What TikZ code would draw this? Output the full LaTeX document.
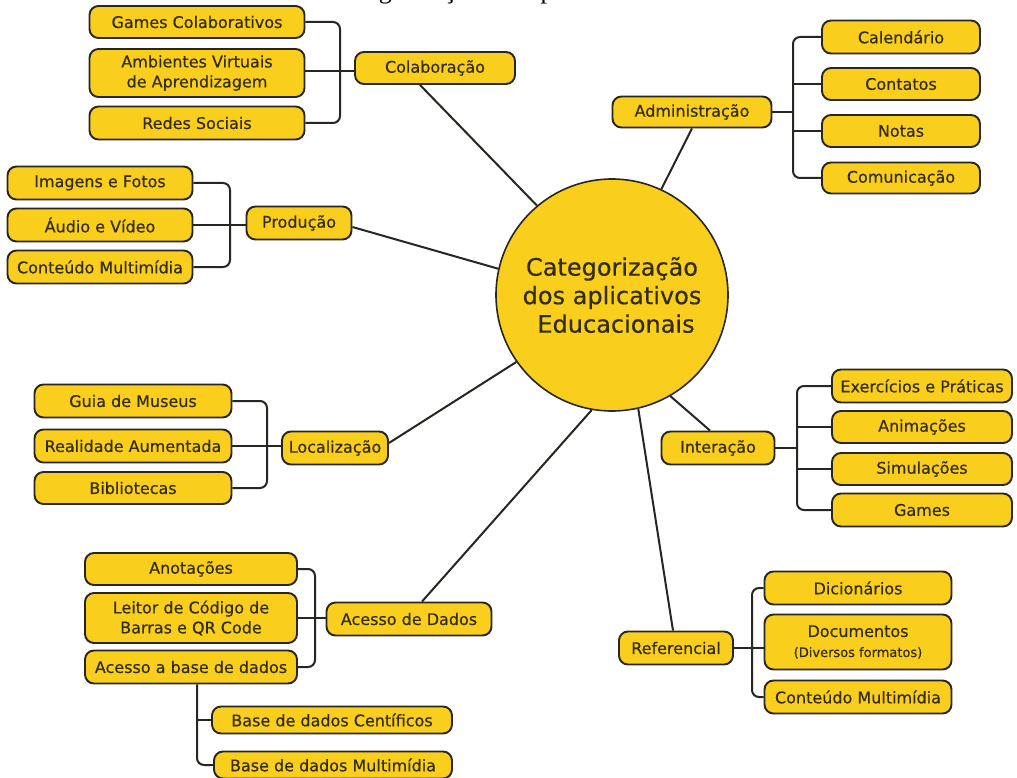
\documentclass[tikz,border=0pt]{standalone}
\usepackage{fontspec}
\setmainfont{DejaVu Sans}
\newfontface\boxface{DejaVu Sans}[FakeBold=0.4]
\newfontfamily\capfont{Liberation Serif}
\definecolor{boxfill}{RGB}{250,206,28}
\definecolor{boxline}{RGB}{40,38,32}
\definecolor{txt}{RGB}{50,44,18}
\tikzset{
  box/.style={draw=boxline, line width=1.9pt, fill=boxfill, rounded corners=9pt,
    align=center, inner sep=0pt, text=txt, font=\boxface\fontsize{16}{20}\selectfont},
  wh/.style 2 args={minimum width=#1pt, minimum height=#2pt},
  conn/.style={draw=boxline, line width=2pt, rounded corners=7pt},
  spoke/.style={draw=boxline, line width=2pt},
}
\begin{document}
\begin{tikzpicture}[x=1pt,y=-1pt]
\useasboundingbox (0,0) rectangle (1017,778);
\fill[white] (0,0) rectangle (1017,778);
% clipped caption at the top edge
\begin{scope}
\clip (0,0) rectangle (1017,778);
\node[anchor=base west, inner sep=0pt, font=\capfont\fontsize{26}{30}\selectfont] (cap) at (331,-1) {Categorização dos aplicativos};
\end{scope}

% centre
\node[circle, draw=boxline, line width=1.6pt, fill=boxfill, minimum size=232pt, inner sep=0pt,
  align=center, text=txt, font=\boxface\fontsize{24}{28.5}\selectfont] (c) at (612,295)
  {Categorização\\dos aplicativos\\\hspace*{8pt}Educacionais};

% Colaboração
\node[box, wh={215}{32}] (gc) at (197,22) {Games Colaborativos};
\node[box, wh={215}{48}] (av) at (197,73) {Ambientes Virtuais\\de Aprendizagem};
\node[box, wh={215}{33}] (rs) at (197,123) {Redes Sociais};
\node[box, wh={160}{32}] (colab) at (435,68) {Colaboração};
\coordinate (bx1) at (340,0);
\draw[conn] (gc.east) -- (gc.east -| bx1) -- (rs.east -| bx1) -- (rs.east);
\draw[spoke] ([yshift=2pt]av.east) -- ([yshift=2pt]av.east -| colab.west);

% Administração
\node[box, wh={159}{31}] (adm) at (692,112) {Administração};
\node[box, wh={158}{33}] (cal) at (901,37) {Calendário};
\node[box, wh={158}{32}] (cont) at (901,84) {Contatos};
\node[box, wh={158}{32}] (notas) at (901,131) {Notas};
\node[box, wh={158}{31}] (com) at (901,178) {Comunicação};
\coordinate (bx2) at (793,0);
\draw[conn] (cal.west) -- (cal.west -| bx2) -- (com.west -| bx2) -- (com.west);
\draw[spoke] (cont.west) -- (cont.west -| bx2);
\draw[spoke] (notas.west) -- (notas.west -| bx2);
\draw[spoke] (adm.east) -- (adm.east -| bx2);

% Produção
\node[box, wh={185}{33}] (img) at (100,183) {Imagens e Fotos};
\node[box, wh={185}{33}] (aud) at (100,225) {Áudio e Vídeo};
\node[box, wh={185}{33}] (cmm) at (100,267) {Conteúdo Multimídia};
\node[box, wh={105}{33}] (prod) at (299,223) {Produção};
\coordinate (bx3) at (230,0);
\draw[conn] (img.east) -- (img.east -| bx3) -- (cmm.east -| bx3) -- (cmm.east);
\draw[spoke] (aud.east) -- (aud.east -| prod.west);

% Localização
\node[box, wh={197}{33}] (gm) at (133,401) {Guia de Museus};
\node[box, wh={197}{33}] (ra) at (133,446) {Realidade Aumentada};
\node[box, wh={197}{32}] (bib) at (133,488) {Bibliotecas};
\node[box, wh={106}{33}] (loc) at (335,448) {Localização};
\coordinate (bx4) at (267,0);
\draw[conn] (gm.east) -- (gm.east -| bx4) -- (bib.east -| bx4) -- (bib.east);
\draw[spoke] (ra.east) -- (ra.east -| loc.west);

% Interação
\node[box, wh={113}{33}] (int) at (718,448) {Interação};
\node[box, wh={180}{33}] (ex) at (922,386) {Exercícios e Práticas};
\node[box, wh={180}{32}] (ani) at (922,427) {Animações};
\node[box, wh={180}{32}] (sim) at (922,469) {Simulações};
\node[box, wh={180}{33}] (gam) at (922,510) {Games};
\coordinate (bx5) at (797,0);
\draw[conn] (ex.west) -- (ex.west -| bx5) -- (gam.west -| bx5) -- (gam.west);
\draw[spoke] (ani.west) -- (ani.west -| bx5);
\draw[spoke] (sim.west) -- (sim.west -| bx5);
\draw[spoke] (int.east) -- (int.east -| bx5);

% Acesso de Dados
\node[box, wh={212}{32}] (an) at (191,569) {Anotações};
\node[box, wh={212}{50}] (lei) at (191,618) {Leitor de Código de\\Barras e QR Code};
\node[box, wh={212}{33}] (abd) at (191,667) {Acesso a base de dados};
\node[box, wh={165}{33}] (acd) at (409,619) {Acesso de Dados};
\node[box, wh={240}{27}] (bdc) at (332,720) {Base de dados Centíficos};
\node[box, wh={238}{27}] (bdm) at (333,765) {Base de dados Multimídia};
\coordinate (bx6) at (315,0);
\coordinate (bx7) at (197,0);
\draw[conn] (an.east) -- (an.east -| bx6) -- (abd.east -| bx6) -- (abd.east);
\draw[spoke] (lei.east) -- (lei.east -| acd.west);
\draw[conn] (abd.south -| bx7) -- (bdm.west -| bx7) -- (bdm.west);
\draw[spoke] (bdc.west -| bx7) -- (bdc.west);

% Referencial
\node[box, wh={114}{33}] (ref) at (676,648) {Referencial};
\node[box, wh={187}{33}] (dic) at (858,588) {Dicionários};
\node[box, wh={187}{55}] (doc) at (858,642) {Documentos\\{\fontsize{13}{18}\selectfont(Diversos formatos)}};
\node[box, wh={187}{33}] (cm2) at (858,697) {Conteúdo Multimídia};
\coordinate (bx8) at (752,0);
\draw[conn] (dic.west) -- (dic.west -| bx8) -- (cm2.west -| bx8) -- (cm2.west);
\draw[spoke] (ref.east) -- (ref.east -| doc.west);

% spokes to the centre
\draw[spoke] ([xshift=-15pt]colab.south) -- (c.130);
\draw[spoke] (adm.south) -- (c.65);
\draw[spoke] ([yshift=-4pt]prod.east) -- (c.167);
\draw[spoke] ([yshift=5pt]loc.east) -- (c.215);
\draw[spoke] ([xshift=13pt]acd.north) -- (c.260);
\draw[spoke] ([xshift=-3pt]ref.north) -- (c.283);
\draw[spoke] ([xshift=-8pt]int.north) -- (c.300);
\end{tikzpicture}
\end{document}
